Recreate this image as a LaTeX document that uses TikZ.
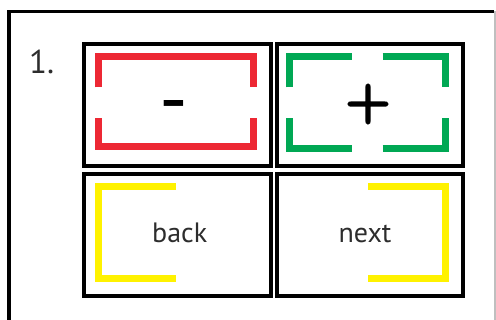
\documentclass[tikz,border=0pt]{standalone}
\usepackage{fontspec}
\setmainfont{PT Sans}
\newfontfamily\symfont{Latin Modern Sans}[FakeBold=5]
\definecolor{bred}{RGB}{237,40,52}
\definecolor{bgreen}{RGB}{0,168,84}
\definecolor{byellow}{RGB}{255,242,0}
\definecolor{txt}{RGB}{45,45,45}
\tikzset{
  cell/.style={draw=black,line width=4pt},
  bracket/.style={line width=7pt,line cap=butt,line join=miter},
  lbl/.style={text=txt,inner sep=0pt,anchor=base,font=\fontsize{28}{28}\selectfont},
  minussym/.style={text=black,inner sep=0pt,font=\fontsize{80}{80}\selectfont},
  plussym/.style={text=black,inner sep=0pt,anchor=base,font=\symfont\fontsize{60}{60}\selectfont},
}
\begin{document}
\begin{tikzpicture}[x=1pt,y=-1pt]
\useasboundingbox (0,0) rectangle (496,320);
% outer frame
\draw[line width=3.5pt,black] (9,322) -- (9,11.7) -- (494,11.7);
\draw[line width=1.5pt,black!25] (495,11) -- (495,322);
\node[text=txt,inner sep=0pt,anchor=base west,font=\fontsize{33}{33}\selectfont] (num) at (29,73.3) {1.};
% cells
\node[cell,minimum width=187pt,minimum height=122pt,anchor=north west,inner sep=0pt] (c1) at (82,42) {};
\node[cell,minimum width=186pt,minimum height=122pt,anchor=north west,inner sep=0pt] (c2) at (275,42) {};
\node[cell,minimum width=187pt,minimum height=122pt,anchor=north west,inner sep=0pt] (c3) at (82,172) {};
\node[cell,minimum width=186pt,minimum height=122pt,anchor=north west,inner sep=0pt] (c4) at (275,172) {};
% red brackets
\draw[bracket,bred] (98.7,87.3) -- (98.7,56.3) -- (253.7,56.3) -- (253.7,87.3);
\draw[bracket,bred] (98.7,118.3) -- (98.7,147) -- (253.7,147) -- (253.7,118.3);
% green corners
\draw[bracket,bgreen] (289.7,87.3) -- (289.7,56.3) -- (352.3,56.3);
\draw[bracket,bgreen] (382.7,56.3) -- (445.3,56.3) -- (445.3,87.3);
\draw[bracket,bgreen] (289.7,118.3) -- (289.7,148.7) -- (352.3,148.7);
\draw[bracket,bgreen] (382.7,148.7) -- (445.3,148.7) -- (445.3,118.3);
% yellow brackets
\draw[bracket,byellow] (175.7,186.3) -- (98.7,186.3) -- (98.7,278.8) -- (175.7,278.8);
\draw[bracket,byellow] (368.3,186.3) -- (445.8,186.3) -- (445.8,278.8) -- (368.3,278.8);
% labels
\node[minussym] (minus) at (174,113.9) {-};
\node[plussym] (plus) at (368,119) {+};
\node[lbl] (back) at (179.7,242.7) {back};
\node[lbl] (next) at (365,242.7) {next};
\end{tikzpicture}
\end{document}
